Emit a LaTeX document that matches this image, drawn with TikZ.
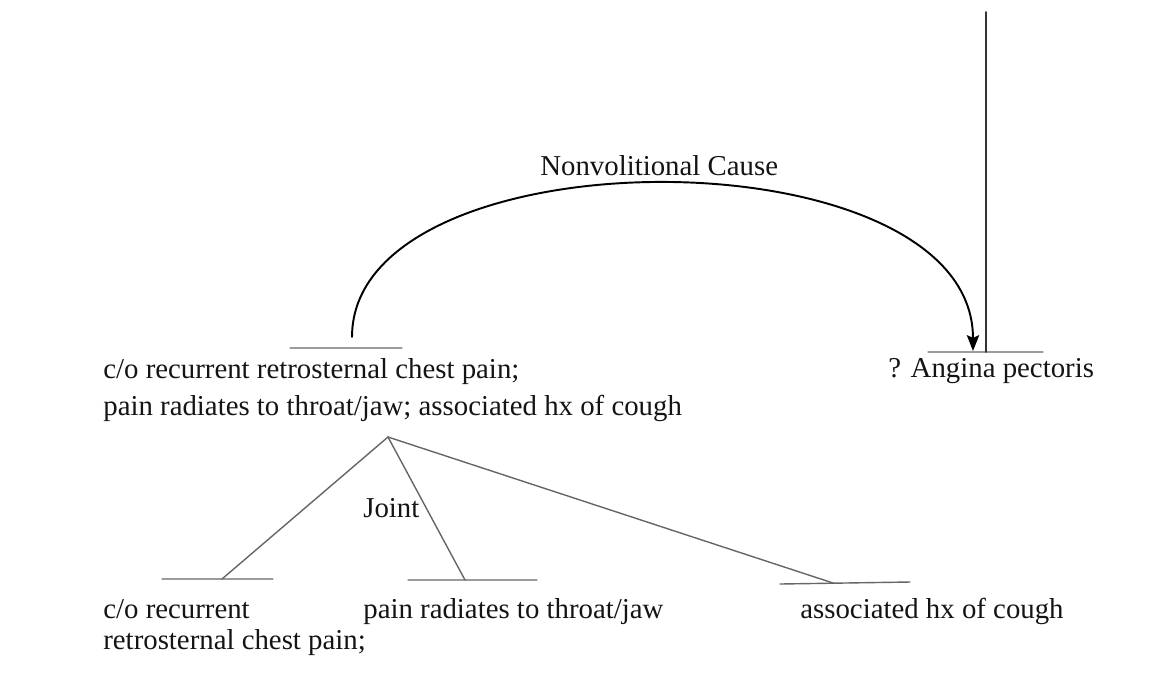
\documentclass[tikz,border=0pt]{standalone}
\usepackage{fontspec}
\setmainfont{Liberation Serif}
\usetikzlibrary{arrows.meta}
\begin{document}
\begin{tikzpicture}[>={Stealth[length=9pt,width=7pt,inset=1.5pt]},line join=round,line cap=round,x=.02cm,y=-.02cm,
  font=\fontsize{16.4}{20}\selectfont,
  lbl/.style={anchor=base west,inner sep=0pt,text=black!92},
  bar/.style={black!60,line width=.8pt}]
\useasboundingbox (0,0) rectangle (1170,698);
\path 
(388,437) coordinate (R)
(352,337) coordinate (S)
(973,351) coordinate (T)
(986,12) coordinate (V)
(986,352) coordinate (W)
(222,579) coordinate (A)
(465,580) coordinate (B)
(833,583) coordinate (C)
;
\path 
(103,378) node[lbl] (c1) {c/o recurrent retrosternal chest pain;}
(103,415) node[lbl] (c2) {pain radiates to throat/jaw; associated hx of cough}
(888,377) node[lbl] (ap) {? Angina pectoris}
(540,175) node[lbl] (nc) {Nonvolitional Cause}
(363,517) node[lbl] (jt) {Joint}
(103,618) node[lbl] (d1) {c/o recurrent}
(103,649) node[lbl] (d2) {retrosternal chest pain;}
(363,618) node[lbl] (d3) {pain radiates to throat/jaw}
(800,618) node[lbl] (d4) {associated hx of cough}
;
\draw[bar] (290,348)--(402,348) (928,352)--(1043,352)
(162,579)--(273,579) (408,580)--(537,580) (780,584)--(910,582);
\foreach\p in {A,B,C}
\draw[bar] (R)--(\p);
\draw[black!80,line width=1pt] (V)--(W);
\draw[->,line width=1.1pt] (S) .. controls (352,130) and (973,130) .. (T);
\end{tikzpicture}
\end{document}
